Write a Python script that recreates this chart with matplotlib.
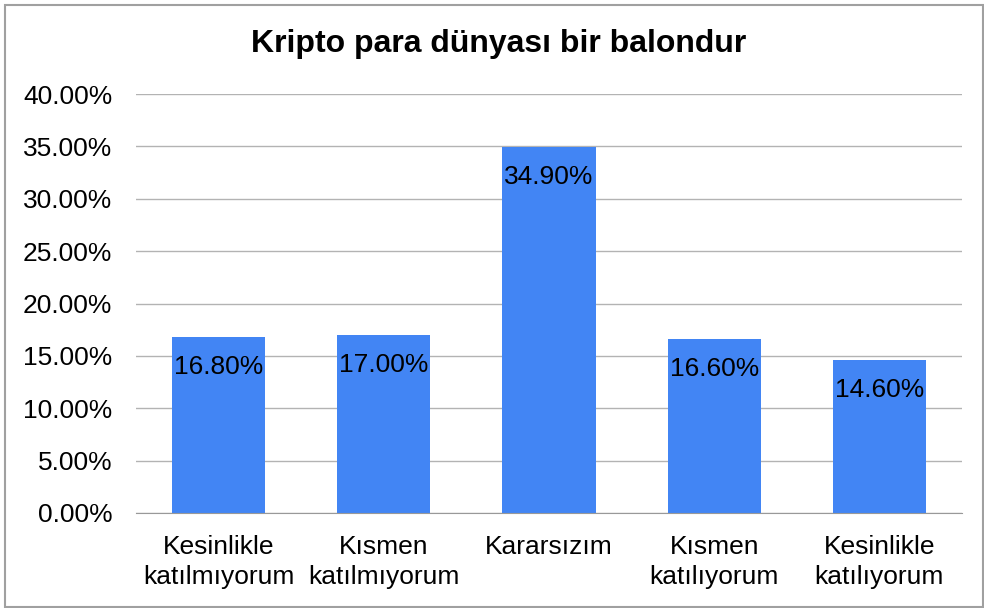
import matplotlib
matplotlib.use("Agg")
import matplotlib.pyplot as plt
from matplotlib.patches import Rectangle

categories = ["Kesinlikle\nkatılmıyorum", "Kısmen\nkatılmıyorum", "Kararsızım",
              "Kısmen\nkatılıyorum", "Kesinlikle\nkatılıyorum"]
values = [16.80, 17.00, 34.90, 16.60, 14.60]
yticks = [0, 5, 10, 15, 20, 25, 30, 35, 40]
title = "Kripto para dünyası bir balondur"

plt.rcParams['font.family'] = ['Liberation Sans', 'DejaVu Sans']

fig = plt.figure(figsize=(9.84, 6.08), dpi=100)
ax = fig.add_axes([136/984, 1-513/608, (962-136)/984, (513-94)/608])

x = range(len(categories))
bars = ax.bar(x, values, width=0.565, color="#4285F4", zorder=3)

for xi, v in zip(x, values):
    ax.annotate(f"{v:.2f}%", xy=(xi, v), xytext=(0, -21.5), textcoords="offset points",
                ha="center", va="center", fontsize=19, color="black", zorder=4)

ax.set_xlim(-0.5, len(categories) - 0.5)
ax.set_ylim(0, 40)
ax.set_yticks(yticks)
ax.set_yticklabels([f"{t:.2f}%" for t in yticks], fontsize=19)
ax.set_xticks(list(x))
ax.set_xticklabels(categories, fontsize=19, linespacing=1.3)
ax.tick_params(axis='y', length=0, pad=17)
ax.tick_params(axis='x', length=0, pad=16)
ax.yaxis.grid(True, color="#b3b3b3", linewidth=1, zorder=0)
for s in ["top", "right", "left"]:
    ax.spines[s].set_visible(False)
ax.spines["bottom"].set_color("#999999")
ax.spines["bottom"].set_zorder(5)

fig.text(499/984, 1-44/608, title, ha="center", va="center", fontsize=23, fontweight="bold")

fig.patches.append(Rectangle((5/984, 1/608), 978/984, 602/608, transform=fig.transFigure,
                             fill=False, edgecolor="#a0a0a0", linewidth=1.5))

fig.savefig("out.png", dpi=100)
